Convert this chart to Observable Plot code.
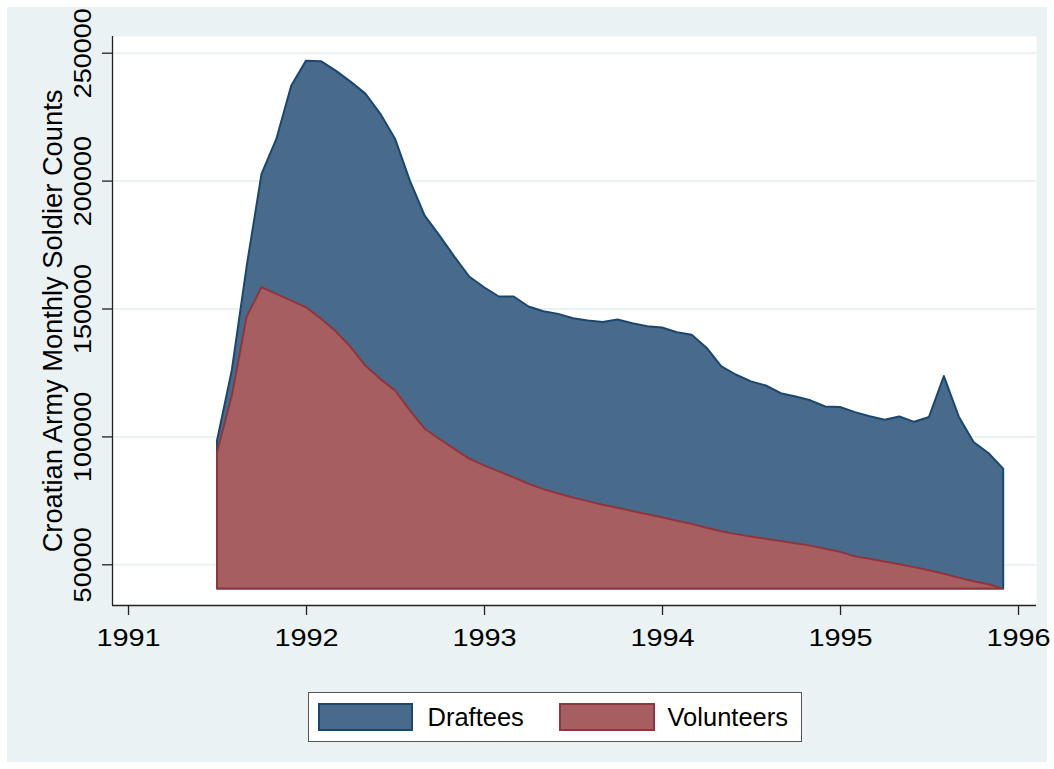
<!DOCTYPE html>
<html><head><meta charset="utf-8">
<script src="https://cdn.jsdelivr.net/npm/d3@7"></script>
<script src="https://cdn.jsdelivr.net/npm/@observablehq/plot@0.6"></script>
<style>
body{margin:0;background:#fff;font-family:"Liberation Sans",Arial,sans-serif;}
#wrap{position:absolute;left:7px;top:7px;width:1040px;height:755px;background:#EAF2F3;}
#chart{position:absolute;left:0;top:0;}
#legend{position:absolute;left:301px;top:685px;width:494px;height:50px;box-sizing:border-box;background:#fff;border:1.5px solid #555;}
.sw{position:absolute;top:9.5px;height:28px;box-sizing:border-box;border:2px solid;}
.lab{position:absolute;top:11.5px;font-size:25.5px;line-height:25px;color:#000;white-space:nowrap;}
</style>
</head><body>
<div id="wrap"><div id="chart"></div><div id="legend"></div></div>
<script>
const months = ["1991-07","1991-08","1991-09","1991-10","1991-11","1991-12",
"1992-01","1992-02","1992-03","1992-04","1992-05","1992-06","1992-07","1992-08","1992-09","1992-10","1992-11","1992-12",
"1993-01","1993-02","1993-03","1993-04","1993-05","1993-06","1993-07","1993-08","1993-09","1993-10","1993-11","1993-12",
"1994-01","1994-02","1994-03","1994-04","1994-05","1994-06","1994-07","1994-08","1994-09","1994-10","1994-11","1994-12",
"1995-01","1995-02","1995-03","1995-04","1995-05","1995-06","1995-07","1995-08","1995-09","1995-10","1995-11","1995-12"];
const draftees = [98400,126000,166600,202600,216300,237100,
246900,246700,243000,238700,234000,226200,216400,200000,186300,178500,170300,162500,
158300,154700,154700,150800,148900,147900,146200,145300,144700,145700,144200,143100,
142600,140700,139700,134700,127400,124100,121500,119900,116900,115600,114100,111700,
111500,109500,107900,106500,107800,105700,107600,123600,107800,97800,93500,87400];
const volunteers = [93900,116000,146900,158300,155700,153100,
150500,146100,141100,135000,127700,122500,118000,110200,103000,99000,95100,91300,
88700,86300,84000,81500,79400,77700,76100,74700,73300,72100,70800,69600,
68400,67000,65800,64300,62900,61800,60900,60000,59100,58200,57300,56100,
54900,53100,52200,51100,50000,48900,47700,46300,44800,43400,42200,40500];
const seriesNames = ["Draftees","Volunteers"];
const yTicks = [50000,100000,150000,200000,250000];
const xTicks = [1991,1992,1993,1994,1995,1996];
const yTitle = "Croatian Army Monthly Soldier Counts";

const fills = ["#486B8C","#A65E61"];
const strokes = ["#1A476F","#90353B"];
const FONT = '"Liberation Sans", Arial, sans-serif';

const rows = months.map((m, i) => ({
  t: +m.slice(0,4) + (+m.slice(5,7) - 1) / 12,
  draftees: draftees[i],
  volunteers: volunteers[i]
}));
const base = d3.min(volunteers);
const xDom = [1990.91, 1996.101];
const yDom = [34090, 256530];

const chart = Plot.plot({
  width: 1040, height: 650,
  marginLeft: 105, marginTop: 29, marginRight: 11, marginBottom: 52,
  style: {background: "transparent", fontFamily: FONT, fontSize: "25px", color: "#000", overflow: "visible"},
  x: {domain: xDom, label: null},
  y: {domain: yDom, label: null},
  marks: [
    Plot.frame({fill: "#fff", stroke: null}),
    Plot.ruleY(yTicks, {stroke: "#EAF2F3", strokeWidth: 2}),
    Plot.areaY(rows, {x: "t", y1: () => base, y2: "draftees", fill: fills[0], stroke: strokes[0], strokeWidth: 2, strokeLinejoin: "round"}),
    Plot.areaY(rows, {x: "t", y1: () => base, y2: "volunteers", fill: fills[1], stroke: strokes[1], strokeWidth: 2, strokeLinejoin: "round"}),
    Plot.ruleX([xDom[0]], {stroke: "#222", strokeWidth: 1.3}),
    Plot.ruleY([yDom[0]], {stroke: "#222", strokeWidth: 1.3}),
    Plot.axisY({ticks: yTicks, tickSize: 10, tickFormat: () => "", stroke: "#222", strokeWidth: 1.3}),
    Plot.text(yTicks, {y: d => d, text: d => String(d), frameAnchor: "left", dx: -21.5, rotate: -90,
      textAnchor: "middle", lineAnchor: "bottom", fontSize: 23.5, fill: "#000"}),
    Plot.axisX({ticks: xTicks, tickSize: 10, tickFormat: () => "", stroke: "#222", strokeWidth: 1.3}),
    Plot.text(xTicks, {x: d => d, text: d => String(d), frameAnchor: "bottom", dy: 23.3,
      textAnchor: "middle", lineAnchor: "top", fontSize: 24.5, fill: "#000"}),
    Plot.text([yTitle], {text: d => d, frameAnchor: "left", dx: -50.5, rotate: -90,
      textAnchor: "middle", lineAnchor: "bottom", fontSize: 27.3, fill: "#000"})
  ]
});
document.getElementById("chart").appendChild(chart);

// Stata's tick-label glyphs are wider than Arial's: stretch them along the reading direction.
const xSet = new Set(xTicks.map(String)), ySet = new Set(yTicks.map(String));
chart.querySelectorAll("text").forEach(t => {
  const s = t.textContent;
  const f = xSet.has(s) ? 1.18 : ySet.has(s) ? 1.15 : 0;
  if (f) {
    const L = t.getComputedTextLength();
    t.setAttribute("textLength", (L * f).toFixed(1));
    t.setAttribute("lengthAdjust", "spacingAndGlyphs");
  }
});

const legend = document.getElementById("legend");
const swLeft = [8.5, 249.5], labLeft = [118.5, 358.5], swW = [95, 96];
seriesNames.forEach((name, i) => {
  const sw = document.createElement("div");
  sw.className = "sw";
  sw.style.left = swLeft[i] + "px";
  sw.style.width = swW[i] + "px";
  sw.style.background = fills[i];
  sw.style.borderColor = strokes[i];
  legend.appendChild(sw);
  const lab = document.createElement("div");
  lab.className = "lab";
  lab.style.left = labLeft[i] + "px";
  lab.textContent = name;
  legend.appendChild(lab);
});
</script>
</body></html>
